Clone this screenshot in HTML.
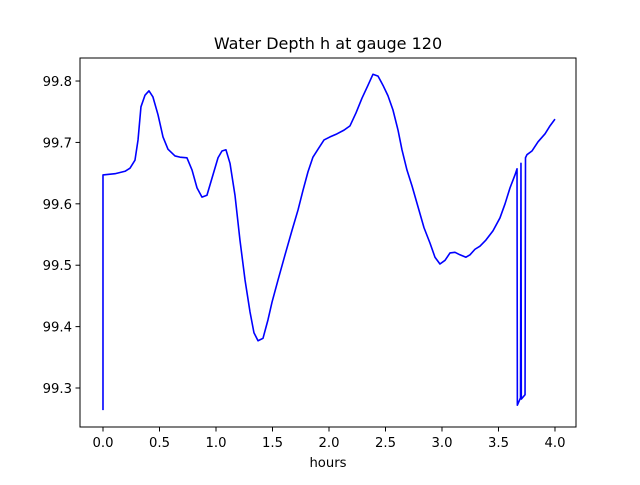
<!DOCTYPE html>
<html><head><meta charset="utf-8"><style>
body{margin:0;background:#fff}
svg text{font-family:"DejaVu Sans","Liberation Sans",sans-serif;fill:#000}
</style></head><body>
<svg id="c" width="640" height="480" xmlns="http://www.w3.org/2000/svg"></svg>
<script>
const hours=[0,0,0.106,0.195,0.239,0.283,0.310,0.336,0.372,0.407,0.442,0.487,0.531,0.575,0.637,0.681,0.743,0.788,0.832,0.876,0.920,0.965,1.018,1.053,1.088,1.124,1.168,1.212,1.257,1.301,1.336,1.372,1.416,1.460,1.496,1.549,1.611,1.673,1.726,1.770,1.814,1.858,1.903,1.956,2.009,2.071,2.133,2.186,2.239,2.292,2.345,2.389,2.434,2.478,2.522,2.566,2.611,2.646,2.690,2.735,2.788,2.841,2.894,2.938,2.982,3.027,3.071,3.115,3.159,3.212,3.248,3.292,3.336,3.389,3.451,3.513,3.558,3.602,3.646,3.664,3.667,3.695,3.699,3.702,3.735,3.739,3.752,3.796,3.850,3.912,3.956,4.0];
const depth=[99.264,99.647,99.649,99.653,99.658,99.671,99.704,99.758,99.777,99.784,99.774,99.745,99.709,99.689,99.678,99.676,99.675,99.655,99.626,99.611,99.614,99.642,99.675,99.686,99.688,99.666,99.614,99.541,99.476,99.424,99.390,99.377,99.381,99.411,99.440,99.476,99.517,99.557,99.590,99.622,99.652,99.676,99.689,99.704,99.709,99.714,99.720,99.727,99.748,99.772,99.793,99.811,99.808,99.793,99.776,99.753,99.720,99.688,99.655,99.629,99.595,99.561,99.536,99.513,99.502,99.508,99.520,99.521,99.517,99.513,99.517,99.526,99.531,99.541,99.556,99.577,99.600,99.626,99.647,99.657,99.272,99.284,99.666,99.282,99.289,99.675,99.680,99.686,99.701,99.714,99.727,99.738];
const xTicks=[0,0.5,1,1.5,2,2.5,3,3.5,4];
const yTicks=[99.3,99.4,99.5,99.6,99.7,99.8];
const L=80,R=576,T=58,B=427,xmin=-0.2035,xmax=4.186,ymin=99.2365,ymax=99.8375;
const sx=v=>L+(v-xmin)/(xmax-xmin)*(R-L);
const sy=v=>B-(v-ymin)/(ymax-ymin)*(B-T);
const svg=document.getElementById('c');const NS='http://www.w3.org/2000/svg';
function mk(t,a,p){const e=document.createElementNS(NS,t);for(const k in a)e.setAttribute(k,a[k]);(p||svg).appendChild(e);return e;}
let d='';hours.forEach((h,i)=>{d+=(i?'L':'M')+sx(h).toFixed(2)+','+sy(depth[i]).toFixed(2);});
const line=mk('path',{d:d,fill:'none',stroke:'#0000ff','stroke-width':1.6,'stroke-linejoin':'round'});


const fr=mk('rect',{x:L,y:T,width:R-L,height:B-T,fill:'none',stroke:'#000','stroke-width':1});


xTicks.forEach(v=>{const x=sx(v);mk('line',{x1:x,x2:x,y1:B,y2:B+4.5,stroke:'#000'});
const t=mk('text',{x:x,y:B+20,'text-anchor':'middle','font-size':13.2});t.textContent=v.toFixed(1);

});
yTicks.forEach(v=>{const y=sy(v);mk('line',{x1:L-4.5,x2:L,y1:y,y2:y,stroke:'#000'});
const t=mk('text',{x:L-8,y:y+5,'text-anchor':'end','font-size':13.2});t.textContent=v.toFixed(1);

});
const xl=mk('text',{x:(L+R)/2,y:467,'text-anchor':'middle','font-size':13.2});xl.textContent='hours';


const ti=mk('text',{x:(L+R)/2,y:49,'text-anchor':'middle','font-size':16});ti.textContent='Water Depth h at gauge 120';


</script>
</body></html>
